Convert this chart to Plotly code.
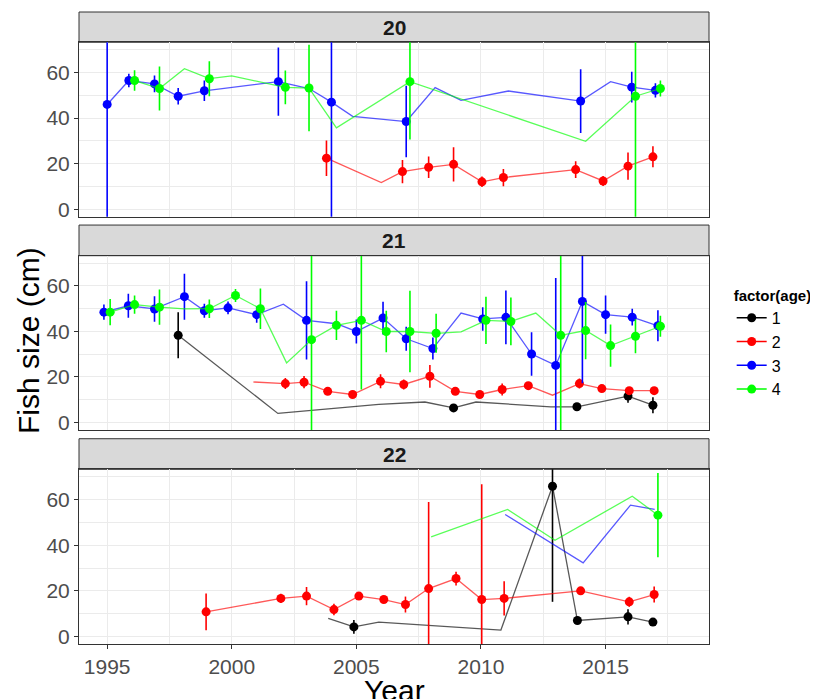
import plotly.graph_objects as go
from plotly.subplots import make_subplots

# ---------------- panel "20" ----------------
p20_age2_yr = [2003.8, 2006.85, 2007.9, 2008.9, 2010.04, 2010.9, 2013.8, 2014.9, 2015.9, 2016.9]
p20_age2_cm = [22.4, 16.5, 18.4, 19.7, 12.0, 13.9, 17.4, 12.4, 18.9, 23.0]
p20_age2_sd = [7.8, 5.1, 4.7, 7.5, 2.3, 3.8, 3.7, 2.2, 6.0, 4.6]
p20_age2_fit_yr = [2003.8, 2006.0, 2006.85, 2007.9, 2008.9, 2010.04, 2010.9, 2013.8, 2014.9, 2015.9, 2016.9]
p20_age2_fit_cm = [22.4, 11.7, 16.5, 18.4, 19.7, 12.0, 13.9, 17.4, 12.4, 18.9, 23.0]

p20_age3_yr = [1995.0, 1995.87, 1996.9, 1997.85, 1998.9, 2001.87, 2004.0, 2007.0, 2014.0, 2016.05, 2017.0]
p20_age3_cm = [46.0, 56.5, 55.0, 49.6, 52.0, 56.0, 47.0, 38.5, 47.5, 53.6, 52.2]
p20_age3_sd = [55, 3.0, 3.7, 3.6, 4.5, 15.0, 55, 15.7, 14.0, 6.8, 3.1]
p20_age3_fit_yr = [1995.0, 1995.87, 1996.9, 1997.85, 1998.9, 2001.87, 2003.1, 2004.0, 2004.85,
                   2007.0, 2008.16, 2009.2, 2011.1, 2014.0, 2015.2, 2016.05, 2017.0]
p20_age3_fit_cm = [46.0, 56.5, 55.0, 49.6, 52.0, 56.0, 53.0, 47.0, 40.8,
                   38.5, 53.4, 47.8, 51.9, 47.5, 56.0, 53.6, 52.2]

p20_age4_yr = [1996.1, 1997.1, 1999.1, 2002.15, 2003.1, 2007.15, 2016.2, 2017.2]
p20_age4_cm = [56.5, 53.0, 57.3, 53.5, 53.2, 56.0, 49.6, 53.0]
p20_age4_sd = [4.5, 9.7, 7.7, 7.4, 19.0, 25.4, 55, 3.5]
p20_age4_fit_yr = [1996.1, 1997.1, 1998.1, 1999.1, 2000.0, 2002.15, 2003.1, 2004.2, 2007.15, 2014.2, 2016.2, 2017.2]
p20_age4_fit_cm = [56.5, 53.0, 61.7, 57.3, 58.5, 53.5, 53.2, 35.7, 56.0, 29.8, 49.6, 53.0]

# ---------------- panel "21" ----------------
p21_age1_yr = [1997.85, 2008.9, 2013.85, 2015.9, 2016.9]
p21_age1_cm = [38.3, 6.4, 6.9, 11.6, 7.6]
p21_age1_sd = [10.1, 1.0, 1.0, 2.9, 3.5]
p21_age1_fit_yr = [1997.85, 2001.85, 2005.9, 2007.75, 2008.9, 2009.8, 2012.8, 2013.85, 2015.9, 2016.9]
p21_age1_fit_cm = [38.3, 4.0, 8.0, 9.0, 6.4, 9.0, 6.9, 6.9, 11.6, 7.6]

p21_age2_yr = [2002.15, 2002.9, 2003.85, 2004.85, 2005.97, 2006.9, 2007.95, 2008.97, 2009.95,
               2010.85, 2011.9, 2013.95, 2014.85, 2015.95, 2016.95]
p21_age2_cm = [17.1, 17.7, 13.7, 12.3, 18.1, 16.7, 20.3, 13.7, 12.3, 14.5, 16.2, 17.1, 14.9, 14.0, 14.0]
p21_age2_sd = [2.4, 2.7, 1.5, 1.0, 3.1, 2.2, 5.0, 1.5, 1.0, 2.6, 1.0, 2.2, 1.0, 1.0, 1.0]
p21_age2_fit_yr = [2000.87, 2002.15, 2002.9, 2003.85, 2004.85, 2005.97, 2006.9, 2007.95, 2008.97,
                   2009.95, 2010.85, 2011.9, 2012.87, 2013.95, 2014.85, 2015.95, 2016.95]
p21_age2_fit_cm = [17.8, 17.1, 17.7, 13.7, 12.3, 18.1, 16.7, 20.3, 13.7,
                   12.3, 14.5, 16.2, 12.0, 17.1, 14.9, 14.0, 14.0]

p21_age3_yr = [1994.87, 1995.85, 1996.9, 1998.1, 1998.9, 1999.85, 2001.0, 2003.0, 2005.0, 2006.07,
               2007.0, 2008.07, 2010.07, 2011.0, 2012.03, 2013.0, 2014.07, 2015.0, 2016.07, 2017.1]
p21_age3_cm = [48.5, 51.3, 49.9, 55.3, 49.1, 50.4, 47.4, 44.9, 40.0, 45.9,
               36.8, 32.5, 45.5, 46.2, 30.1, 25.1, 53.2, 47.4, 46.3, 42.5]
p21_age3_sd = [3.4, 5.3, 5.6, 10.1, 3.1, 2.8, 3.6, 17.2, 5.3, 7.2,
               5.3, 4.8, 5.2, 11.8, 9.6, 38.4, 36.0, 8.4, 3.7, 6.8]
p21_age3_fit_yr = [1994.87, 1995.85, 1996.9, 1998.1, 1998.9, 1999.85, 2001.0, 2002.07, 2003.0, 2004.2,
                   2005.0, 2006.07, 2007.0, 2008.07, 2009.2, 2010.07, 2011.0, 2012.03, 2013.0,
                   2014.07, 2015.0, 2016.07, 2017.1]
p21_age3_fit_cm = [48.5, 51.3, 49.9, 55.3, 49.1, 50.4, 47.4, 52.0, 44.9, 43.4,
                   40.0, 45.9, 36.8, 32.5, 48.1, 45.5, 46.2, 30.1, 25.1,
                   53.2, 47.4, 46.3, 42.5]

p21_age4_yr = [1995.12, 1996.1, 1997.1, 1999.1, 2000.15, 2001.15, 2003.2, 2004.2, 2005.2, 2006.2,
               2007.15, 2008.2, 2010.2, 2011.2, 2013.2, 2014.2, 2015.2, 2016.2, 2017.2]
p21_age4_cm = [48.5, 51.8, 50.7, 50.0, 55.8, 50.0, 36.4, 42.7, 44.9, 40.0,
               40.0, 39.2, 44.9, 44.4, 38.3, 40.4, 33.8, 37.9, 42.3]
p21_age4_sd = [5.8, 4.0, 7.7, 4.1, 2.9, 8.9, 45, 6.4, 30.4, 9.1,
               17.9, 8.6, 10.4, 10.5, 45, 12.6, 9.3, 7.5, 4.6]
p21_age4_fit_yr = [1995.12, 1996.1, 1997.1, 1998.1, 1999.1, 2000.15, 2001.15, 2002.2, 2003.2, 2004.2,
                   2005.2, 2006.2, 2007.15, 2008.2, 2009.2, 2010.2, 2011.2, 2012.2, 2013.2,
                   2014.2, 2015.2, 2016.2, 2017.2]
p21_age4_fit_cm = [48.5, 51.8, 50.7, 49.9, 50.0, 55.8, 50.0, 26.2, 36.4, 42.7,
                   44.9, 40.0, 40.0, 39.2, 39.8, 44.9, 44.4, 48.1, 38.3,
                   40.4, 33.8, 37.9, 42.3]

# ---------------- panel "22" ----------------
p22_age1_yr = [2004.9, 2012.87, 2013.87, 2015.9, 2016.9]
p22_age1_cm = [4.2, 65.9, 7.0, 8.6, 6.3]
p22_age1_sd = [3.0, 50.7, 1.0, 3.3, 1.0]
p22_age1_fit_yr = [2003.87, 2004.9, 2005.9, 2010.8, 2012.87, 2013.87, 2015.9, 2016.9]
p22_age1_fit_cm = [7.9, 4.2, 6.3, 2.8, 65.9, 7.0, 8.6, 6.3]

p22_age2_yr = [1998.97, 2001.97, 2003.0, 2004.1, 2005.1, 2006.1, 2006.97, 2007.9, 2009.0,
               2010.03, 2010.93, 2014.0, 2015.95, 2016.95]
p22_age2_cm = [10.8, 16.7, 17.7, 11.8, 17.7, 16.2, 14.0, 21.0, 25.4, 16.2, 16.7, 20.0, 15.2, 18.4]
p22_age2_sd = [8.1, 2.0, 4.0, 2.5, 1.0, 1.0, 3.5, 38.0, 3.0, 50.5, 7.5, 1.0, 2.2, 3.5]
p22_age2_fit_yr = p22_age2_yr
p22_age2_fit_cm = p22_age2_cm

p22_age3_yr = []
p22_age3_cm = []
p22_age3_sd = []
p22_age3_fit_yr = [2010.97, 2014.1, 2016.0, 2016.97]
p22_age3_fit_cm = [53.5, 32.3, 57.6, 55.7]

p22_age4_yr = [2017.1]
p22_age4_cm = [53.2]
p22_age4_sd = [18.5]
p22_age4_fit_yr = [2008.0, 2011.07, 2012.97, 2016.07, 2017.1]
p22_age4_fit_cm = [43.7, 55.7, 42.2, 61.5, 53.2]

panels = ["20", "21", "22"]
ages = ["1", "2", "3", "4"]
age_colors = {"1": "#000000", "2": "#FF0000", "3": "#0000FF", "4": "#00FF00"}

series = [
    # row, age, points x, points y, sd, fitted x, fitted y
    (1, "2", p20_age2_yr, p20_age2_cm, p20_age2_sd, p20_age2_fit_yr, p20_age2_fit_cm),
    (1, "3", p20_age3_yr, p20_age3_cm, p20_age3_sd, p20_age3_fit_yr, p20_age3_fit_cm),
    (1, "4", p20_age4_yr, p20_age4_cm, p20_age4_sd, p20_age4_fit_yr, p20_age4_fit_cm),
    (2, "1", p21_age1_yr, p21_age1_cm, p21_age1_sd, p21_age1_fit_yr, p21_age1_fit_cm),
    (2, "2", p21_age2_yr, p21_age2_cm, p21_age2_sd, p21_age2_fit_yr, p21_age2_fit_cm),
    (2, "3", p21_age3_yr, p21_age3_cm, p21_age3_sd, p21_age3_fit_yr, p21_age3_fit_cm),
    (2, "4", p21_age4_yr, p21_age4_cm, p21_age4_sd, p21_age4_fit_yr, p21_age4_fit_cm),
    (3, "1", p22_age1_yr, p22_age1_cm, p22_age1_sd, p22_age1_fit_yr, p22_age1_fit_cm),
    (3, "2", p22_age2_yr, p22_age2_cm, p22_age2_sd, p22_age2_fit_yr, p22_age2_fit_cm),
    (3, "3", p22_age3_yr, p22_age3_cm, p22_age3_sd, p22_age3_fit_yr, p22_age3_fit_cm),
    (3, "4", p22_age4_yr, p22_age4_cm, p22_age4_sd, p22_age4_fit_yr, p22_age4_fit_cm),
]

FONT = "Liberation Sans, Arial, sans-serif"

fig = make_subplots(rows=3, cols=1, shared_xaxes=True)

for row, age, x, y, sd, fx, fy in series:
    col = age_colors[age]
    # fitted line, semi transparent
    fig.add_trace(go.Scatter(
        x=fx, y=fy, mode="lines",
        line=dict(color=col, width=1.3),
        opacity=0.65, showlegend=False, hoverinfo="skip"
    ), row=row, col=1)
    # mean +/- sd
    if x:
        fig.add_trace(go.Scatter(
            x=x, y=y, mode="markers",
            marker=dict(color=col, size=9),
            error_y=dict(type="data", array=sd, color=col, thickness=1.6, width=0),
            showlegend=False
        ), row=row, col=1)

# legend keys
for age in ages:
    fig.add_trace(go.Scatter(
        x=[None], y=[None], mode="lines+markers", name=age,
        line=dict(color=age_colors[age], width=1.5),
        marker=dict(color=age_colors[age], size=9)
    ), row=1, col=1)

# panel geometry (paper coords)
plot_dom = [[0.6761, 0.9521], [0.3386, 0.6144], [0.0, 0.2764]]
strip_dom = [[0.9521, 1.0], [0.6144, 0.6629], [0.2764, 0.3248]]

for i in range(3):
    fig.update_yaxes(
        domain=plot_dom[i], range=[-3.3, 73.3],
        tickvals=[0, 20, 40, 60], ticks="outside", ticklen=4, tickcolor="#333333",
        tickfont=dict(size=21, color="#4D4D4D", family=FONT),
        showgrid=True, gridcolor="#EBEBEB", gridwidth=1.1,
        minor=dict(dtick=10, tick0=0, showgrid=True, gridcolor="#EBEBEB", gridwidth=0.6),
        showline=True, mirror=True, linecolor="#333333", linewidth=1,
        zeroline=False, row=i + 1, col=1
    )
    fig.update_xaxes(
        range=[1993.87, 2019.15], tick0=1995, dtick=5,
        showgrid=True, gridcolor="#EBEBEB", gridwidth=1.1,
        minor=dict(dtick=2.5, tick0=1995, showgrid=True, gridcolor="#EBEBEB", gridwidth=0.6),
        showline=True, mirror=True, linecolor="#333333", linewidth=1,
        zeroline=False,
        ticks="outside" if i == 2 else "", ticklen=4, tickcolor="#333333",
        showticklabels=(i == 2),
        tickfont=dict(size=21, color="#4D4D4D", family=FONT),
        row=i + 1, col=1
    )
    fig.add_shape(type="rect", xref="paper", yref="paper",
                  x0=0, x1=1, y0=strip_dom[i][0], y1=strip_dom[i][1],
                  fillcolor="#D9D9D9", line=dict(color="#333333", width=1), layer="below")
    fig.add_annotation(text="<b>" + panels[i] + "</b>", xref="paper", yref="paper",
                       x=0.5, y=sum(strip_dom[i]) / 2, showarrow=False,
                       xanchor="center", yanchor="middle",
                       font=dict(size=21, color="#1A1A1A", family=FONT))

fig.add_annotation(text="Fish size (cm)", xref="paper", yref="paper",
                   x=-0.081, y=0.481, textangle=-90, showarrow=False,
                   xanchor="center", yanchor="middle",
                   font=dict(size=30, color="#000000", family=FONT))
# sits at the very bottom edge, as in the original figure
fig.add_annotation(text="Year", xref="paper", yref="paper",
                   x=0.5, y=-0.045, showarrow=False,
                   xanchor="center", yanchor="top",
                   font=dict(size=30, color="#000000", family=FONT))

# the page adds an 8px body margin, so the figure is 8px smaller each way
fig.update_layout(
    width=810, height=691,
    margin=dict(l=71, r=107, t=4, b=55),
    paper_bgcolor="white", plot_bgcolor="white",
    font=dict(family=FONT),
    legend=dict(
        title=dict(text="<b>factor(age)</b>", font=dict(size=15, color="#000000", family=FONT)),
        font=dict(size=16, color="#000000", family=FONT),
        x=1.036, xanchor="left", y=0.475, yanchor="middle",
        itemwidth=30, tracegroupgap=0, bgcolor="rgba(0,0,0,0)"
    ),
)

fig.write_html("out.html")
